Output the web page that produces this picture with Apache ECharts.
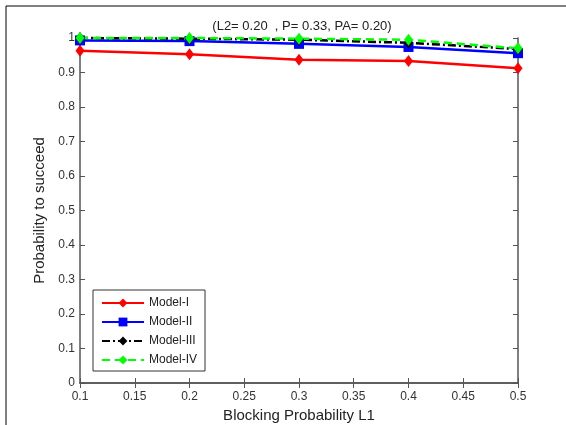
<!DOCTYPE html>
<html>
<head>
<meta charset="utf-8">
<script src="https://cdn.jsdelivr.net/npm/echarts@6/dist/echarts.min.js"></script>
<style>
  html, body { margin: 0; padding: 0; background: #fff; }
  #chart { width: 566px; height: 425px; }
</style>
</head>
<body>
<div id="chart"></div>
<script>
// blocking probability L1 on x
var xValues = [0.1, 0.2, 0.3, 0.4, 0.5];
var modelI   = [0.963, 0.953, 0.937, 0.933, 0.912];
var modelII  = [0.993, 0.991, 0.983, 0.974, 0.956];
var modelIII = [1.000, 0.998, 0.995, 0.986, 0.968];
var modelIV  = [1.000, 1.000, 0.998, 0.995, 0.970];
var seriesNames = ['Model-I', 'Model-II', 'Model-III', 'Model-IV'];

function pairs(ys) {
    return xValues.map(function (x, i) { return [x, ys[i]]; });
}

var chart = echarts.init(document.getElementById('chart'));
var font = 'Liberation Sans, Arial, sans-serif';
var axisCol = '#555';

function mkSeries(name, ys, color, symbol, dash) {
    return {
        name: name,
        type: 'line',
        data: pairs(ys),
        symbol: symbol,
        symbolSize: symbol === 'rect' ? 10 : [9, 12],
        clip: false,
        itemStyle: { color: color },
        lineStyle: { color: color, width: 2.5, type: dash },
        emphasis: { disabled: true }
    };
}

var option = {
    animation: false,
    backgroundColor: '#fff',
    title: {
        text: '(L2= 0.20  , P= 0.33, PA= 0.20)',
        left: 297, top: 15, textAlign: 'center',
        textStyle: { fontFamily: font, fontSize: 13, fontWeight: 'normal', color: '#222' }
    },
    legend: {
        orient: 'vertical',
        left: 93, top: 290,
        data: seriesNames,
        itemWidth: 42, itemHeight: 11, itemGap: 7,
        padding: [7, 8, 5, 8],
        borderColor: '#333', borderWidth: 1,
        backgroundColor: '#fff',
        textStyle: { fontFamily: font, fontSize: 12, color: '#222' }
    },
    grid: { left: 80, right: 48, top: 38, bottom: 42, outerBoundsMode: 'none' },
    xAxis: [{
        type: 'value', min: 0.1, max: 0.5, interval: 0.05,
        name: 'Blocking Probability L1', nameLocation: 'middle', nameGap: 20,
        nameTextStyle: { fontFamily: font, fontSize: 15, color: '#222' },
        axisLine: { lineStyle: { color: axisCol, width: 1.5 } },
        axisTick: { inside: true, length: 5, lineStyle: { color: axisCol } },
        axisLabel: { fontFamily: font, fontSize: 12, color: '#333', margin: 8,
            formatter: function (v) { return String(+v.toFixed(2)); } },
        splitLine: { show: false }
    }, {
        type: 'value', min: 0.1, max: 0.5, interval: 0.05, position: 'top',
        axisLine: { lineStyle: { color: axisCol, width: 1.5 } },
        axisTick: { inside: true, length: 5, lineStyle: { color: axisCol } },
        axisLabel: { show: false },
        splitLine: { show: false }
    }],
    yAxis: [{
        type: 'value', min: 0, max: 1, interval: 0.1,
        name: 'Probability to succeed', nameLocation: 'middle', nameGap: 27,
        nameTextStyle: { fontFamily: font, fontSize: 15, color: '#222' },
        axisLine: { show: true, lineStyle: { color: axisCol, width: 1.5 } },
        axisTick: { show: true, inside: true, length: 5, lineStyle: { color: axisCol } },
        axisLabel: { fontFamily: font, fontSize: 12, color: '#333', margin: 5,
            formatter: function (v) { return String(+v.toFixed(1)); } },
        splitLine: { show: false }
    }, {
        type: 'value', min: 0, max: 1, interval: 0.1, position: 'right',
        axisLine: { show: true, lineStyle: { color: axisCol, width: 1.5 } },
        axisTick: { show: true, inside: true, length: 5, lineStyle: { color: axisCol } },
        axisLabel: { show: false },
        splitLine: { show: false }
    }],
    graphic: [{
        type: 'polyline',
        shape: { points: [[6, 425], [6, 6], [566, 6]] },
        style: { stroke: '#000', lineWidth: 1, fill: null }
    }],
    series: [
        mkSeries(seriesNames[0], modelI, '#ff0000', 'diamond', 'solid'),
        mkSeries(seriesNames[1], modelII, '#0000ff', 'rect', 'solid'),
        mkSeries(seriesNames[2], modelIII, '#000000', 'diamond', [8, 3, 2, 3]),
        mkSeries(seriesNames[3], modelIV, '#00ff00', 'diamond', [8, 5])
    ]
};
chart.setOption(option);
</script>
</body>
</html>
